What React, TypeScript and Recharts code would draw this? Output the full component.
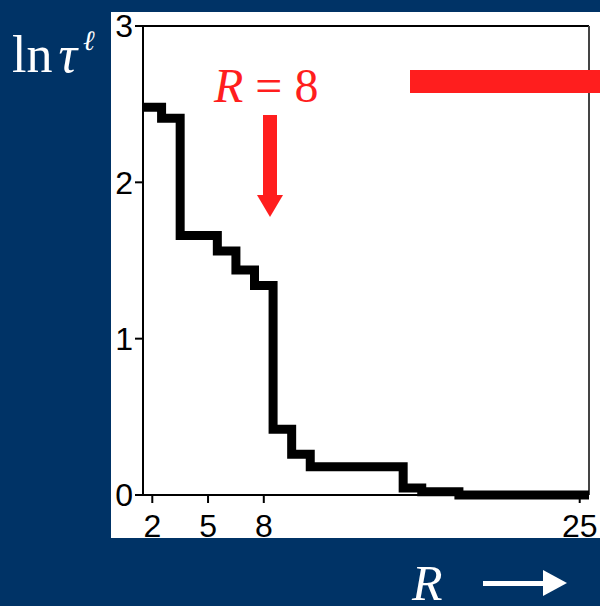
import React from 'react';
import { LineChart, Line, XAxis, YAxis, ReferenceLine } from 'recharts';

// ln tau vs R (step centred on each integer R)
const R_VALUES = [2, 3, 4, 5, 6, 7, 8, 9, 10, 11, 12, 13, 14, 15, 16, 17, 18, 19, 20, 21, 22, 23, 24, 25];
const LN_TAU = [2.48, 2.41, 1.66, 1.66, 1.56, 1.44, 1.34, 0.42, 0.26, 0.18, 0.18, 0.18, 0.18, 0.18, 0.045, 0.02, 0.02, 0, 0, 0, 0, 0, 0, 0];
const X_TICKS = [2, 5, 8, 25];
const Y_TICKS = [0, 1, 2, 3];

const BG = '#003366';
const RED = '#ff1e1e';
const SANS = '"Liberation Sans", Arial, sans-serif';
const SERIF = '"Liberation Serif", "Times New Roman", serif';

// each bin covers R-0.5 .. R+0.5, so a stepAfter line from the left edge of the bin
const rows = R_VALUES.map((r, i) => ({ x: r - 0.5, y: LN_TAU[i] }));
rows.push({ x: R_VALUES[R_VALUES.length - 1] + 0.5, y: LN_TAU[LN_TAU.length - 1] });

const tickStyle = { fontFamily: SANS, fontSize: 32, fill: '#000' };

export default function App() {
    return (
        <div
            style={{
                position: 'fixed',
                left: 0,
                top: 0,
                width: 600,
                height: 606,
                background: BG,
                overflow: 'hidden',
            }}
        >
            <div
                style={{
                    position: 'absolute',
                    left: 111,
                    top: 12,
                    width: 489,
                    height: 526,
                    background: '#fff',
                }}
            />
            <div style={{ position: 'absolute', left: 0, top: 0 }}>
                <LineChart
                    width={600}
                    height={606}
                    data={rows}
                    margin={{ top: 26, right: 11, bottom: 71, left: 103 }}
                >
                    <XAxis
                        type="number"
                        dataKey="x"
                        domain={[1.5, 25.5]}
                        ticks={X_TICKS}
                        height={40}
                        tickSize={8}
                        tickMargin={11}
                        axisLine={{ stroke: '#000', strokeWidth: 2 }}
                        tickLine={{ stroke: '#000', strokeWidth: 2 }}
                        tick={tickStyle}
                        interval={0}
                    />
                    <YAxis
                        type="number"
                        domain={[0, 3]}
                        ticks={Y_TICKS}
                        width={40}
                        tickSize={8}
                        tickMargin={2}
                        axisLine={{ stroke: '#000', strokeWidth: 2 }}
                        tickLine={{ stroke: '#000', strokeWidth: 2 }}
                        tick={tickStyle}
                        interval={0}
                    />
                    <ReferenceLine y={3} stroke="#000" strokeWidth={2} />
                    <ReferenceLine x={25.5} stroke="#444" strokeWidth={2} />
                    <Line
                        type="stepAfter"
                        dataKey="y"
                        stroke="#000"
                        strokeWidth={9}
                        strokeLinejoin="miter"
                        strokeLinecap="butt"
                        dot={false}
                        activeDot={false}
                        isAnimationActive={false}
                    />
                </LineChart>
            </div>
            <svg
                width={600}
                height={606}
                style={{ position: 'absolute', left: 0, top: 0, pointerEvents: 'none' }}
            >
                {/* red marker bar top right */}
                <rect x={410} y={70} width={190} height={23} fill={RED} />
                {/* R = 8 label and arrow */}
                <text x={214} y={102} fill={RED} fontFamily={SERIF} fontSize={48}>
                    <tspan fontStyle="italic">R</tspan>
                    <tspan dx={12}>=</tspan>
                    <tspan dx={12}>8</tspan>
                </text>
                <rect x={263} y={115} width={14} height={81} fill={RED} />
                <polygon points="257,195 283,195 270,217" fill={RED} />
                {/* y axis label */}
                <text x={12} y={72} fill="#fff" fontFamily={SERIF} fontSize={52}>
                    <tspan>ln</tspan>
                    <tspan fontStyle="italic" dx={6}>τ</tspan>
                    <tspan fontStyle="italic" fontSize={28} dx={6} dy={-22}>ℓ</tspan>
                </text>
                {/* x axis label and arrow */}
                <text x={412} y={600} fill="#fff" fontFamily={SERIF} fontSize={50} fontStyle="italic">
                    R
                </text>
                <rect x={483} y={581} width={62} height={5} fill="#fff" />
                <polygon points="543,570 567,583 543,596" fill="#fff" />
            </svg>
        </div>
    );
}
